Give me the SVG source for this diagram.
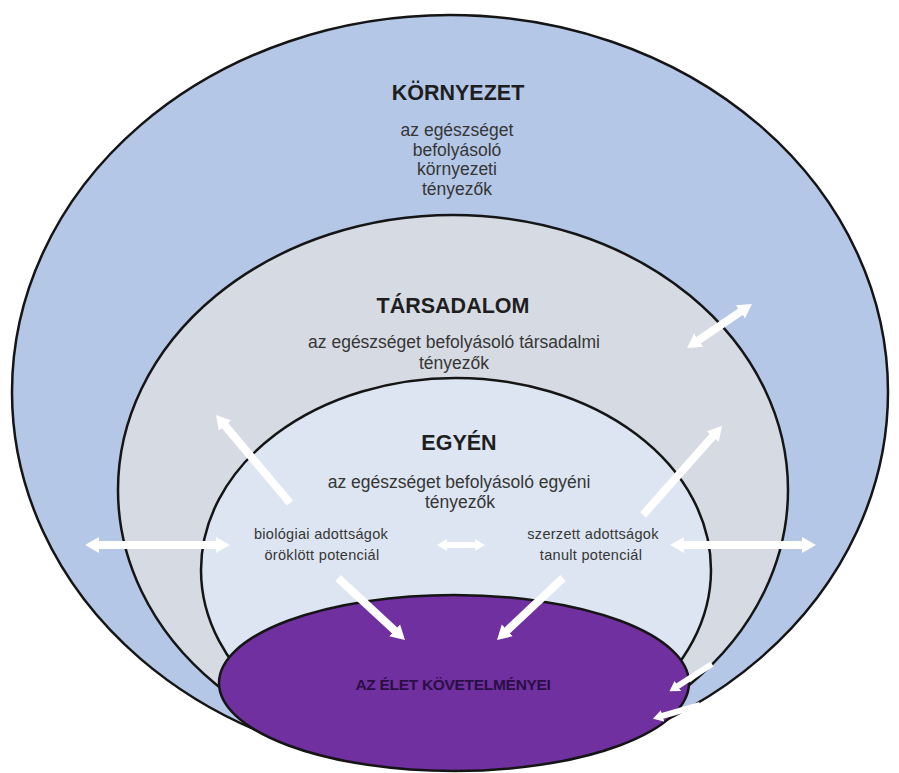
<svg xmlns="http://www.w3.org/2000/svg" width="899" height="773" viewBox="0 0 899 773">
<style>
.ell{stroke:#151515;stroke-width:2.5}
.t{font-family:"Liberation Sans",Arial,sans-serif;text-anchor:middle}
.h{font-weight:bold;font-size:21.5px;fill:#1e1e1e}
.b{font-size:17.5px;fill:#363636}
.s{font-size:14.5px;fill:#363636;letter-spacing:0.3px}
.p{font-weight:bold;font-size:15.5px;fill:#2a0e45;letter-spacing:-0.3px}
.ar{stroke:#ffffff;stroke-width:8;fill:none}
.ar2{stroke:#ffffff;stroke-width:6;fill:none}
</style>
<defs>
<marker id="hd" markerUnits="userSpaceOnUse" markerWidth="16" markerHeight="20" refX="1" refY="10" orient="auto-start-reverse" viewBox="0 0 16 20">
<path d="M0,2 L14,10 L0,18 Z" fill="#ffffff"/>
</marker>
<marker id="hs" markerUnits="userSpaceOnUse" markerWidth="12" markerHeight="14" refX="1" refY="7" orient="auto-start-reverse" viewBox="0 0 12 14">
<path d="M0,1 L10,7 L0,13 Z" fill="#ffffff"/>
</marker>
</defs>
<rect width="899" height="773" fill="#ffffff"/>
<g id="kornyezet">
<ellipse class="ell" cx="450" cy="392" rx="438" ry="377" fill="#b4c7e7"/>
<text class="t h" x="458" y="100">KÖRNYEZET</text>
<text class="t b" x="457" y="136">az egészséget</text>
<text class="t b" x="457" y="155.5">befolyásoló</text>
<text class="t b" x="457" y="175">környezeti</text>
<text class="t b" x="457" y="194.5">tényezők</text>
</g>
<g id="tarsadalom">
<ellipse class="ell" cx="453" cy="490" rx="335" ry="275" fill="#d6dbe3"/>
<text class="t h" x="453" y="313">TÁRSADALOM</text>
<text class="t b" x="454" y="348">az egészséget befolyásoló társadalmi</text>
<text class="t b" x="454" y="369">tényezők</text>
</g>
<g id="egyen">
<ellipse class="ell" cx="456" cy="570" rx="255" ry="192" fill="#dce5f1"/>
<text class="t h" x="459" y="450">EGYÉN</text>
<text class="t b" x="459" y="488">az egészséget befolyásoló egyéni</text>
<text class="t b" x="460" y="508">tényezők</text>
</g>
<g id="biologiai">
<text class="t s" x="321" y="539">biológiai adottságok</text>
<text class="t s" x="322" y="560">öröklött potenciál</text>
</g>
<g id="szerzett">
<text class="t s" x="593" y="539">szerzett adottságok</text>
<text class="t s" x="591" y="560">tanult potenciál</text>
</g>
<g id="elet">
<ellipse class="ell" cx="454" cy="683" rx="235" ry="88" fill="#7030a0"/>
<text class="t p" x="453" y="690">AZ ÉLET KÖVETELMÉNYEI</text>
</g>
<g id="connectors">
<line class="ar" x1="697.8" y1="340.7" x2="741.2" y2="311.3" marker-start="url(#hd)" marker-end="url(#hd)"/>
<line class="ar" x1="290" y1="503" x2="224.4" y2="424.9" marker-end="url(#hd)"/>
<line class="ar" x1="643" y1="515" x2="713.4" y2="435.7" marker-end="url(#hd)"/>
<line class="ar" x1="98" y1="545" x2="217" y2="545" marker-start="url(#hd)" marker-end="url(#hd)"/>
<line class="ar2" x1="446" y1="545" x2="476" y2="545" marker-start="url(#hs)" marker-end="url(#hs)"/>
<line class="ar" x1="683" y1="545" x2="803" y2="545" marker-start="url(#hd)" marker-end="url(#hd)"/>
<line class="ar" x1="338" y1="578" x2="395.4" y2="631.1" marker-end="url(#hd)"/>
<line class="ar" x1="563" y1="578" x2="506.5" y2="631.1" marker-end="url(#hd)"/>
<line class="ar2" x1="712" y1="664" x2="677" y2="686.5" marker-end="url(#hs)"/>
<line class="ar2" x1="700" y1="705" x2="661.6" y2="716.2" marker-end="url(#hs)"/>
</g>
</svg>
